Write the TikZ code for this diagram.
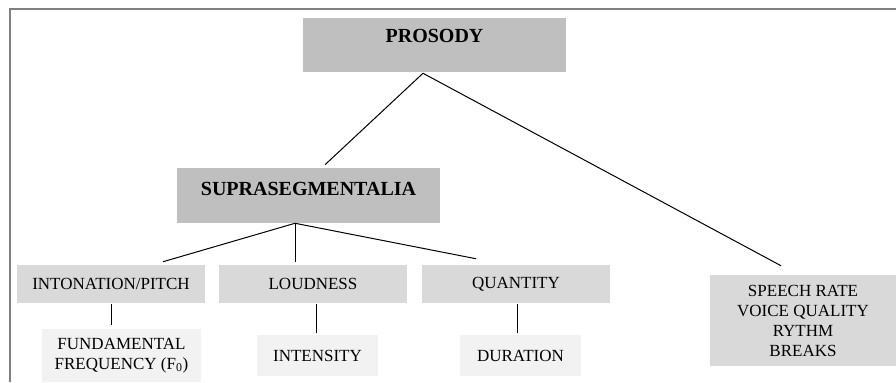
\documentclass[tikz,border=0pt]{standalone}
\usepackage{fontspec}
\setmainfont{Liberation Serif}
\usetikzlibrary{calc}
\definecolor{boxdark}{HTML}{BFBFBF}
\definecolor{boxmid}{HTML}{D9D9D9}
\definecolor{boxlight}{HTML}{F2F2F2}
\definecolor{framegray}{HTML}{808080}
\tikzset{
  box/.style={inner sep=0pt, align=center, font=\fontsize{12.75}{15}\selectfont},
  headbox/.style={box, fill=boxdark, font=\fontsize{15}{18}\selectfont\bfseries},
  link/.style={line width=0.75pt}
}
\begin{document}
\begin{tikzpicture}[x=0.75pt,y=-0.75pt]
    \useasboundingbox (0,0) rectangle (896,382);
    \draw [framegray,line width=1.1pt] (10,382) -- (10,9) -- (896,9);
    \node [headbox,minimum width=197.25pt,minimum height=40.5pt,text depth=13.5pt] (pros) at (434.5,45) {PROSODY};
    \node [headbox,minimum width=197.25pt,minimum height=41.25pt,text depth=9.75pt] (supra) at (308.5,195.5) {SUPRASEGMENTALIA};
    \node [box,fill=boxmid,minimum width=141pt,minimum height=28.5pt] (inton) at (111,284) {INTONATION/PITCH};
    \node [box,fill=boxmid,minimum width=141pt,minimum height=28.5pt] (loud) at (313,284) {LOUDNESS};
    \node [box,fill=boxmid,minimum width=141pt,minimum height=28.5pt] (quant) at (516,284) {QUANTITY};
    \node [box,fill=boxlight,minimum width=119.25pt,minimum height=39.75pt] (fund) at (121.5,355.5) {FUNDAMENTAL\\FREQUENCY (F\textsubscript{0})};
    \node [box,fill=boxlight,minimum width=90.75pt,minimum height=30.75pt] (inten) at (317.5,355.5) {INTENSITY};
    \node [box,fill=boxlight,minimum width=90.75pt,minimum height=30.75pt] (dur) at (520.5,355.5) {DURATION};
    \node [box,fill=boxmid,minimum width=139.5pt,minimum height=68.25pt] (rate) at (803,320.5) {SPEECH RATE\\VOICE QUALITY\\RYTHM\\BREAKS};
    \draw [link] ($(pros.south)+(-11.5,1)$) -- ($(supra.north)+(16.5,-3)$);
    \draw [link] ($(pros.south)+(-11.5,1)$) -- ($(rate.north)+(-22,-9)$);
    \draw [link] ($(supra.south)+(-13.5,0)$) -- ($(inton.north)+(52,-3)$);
    \draw [link] ($(supra.south)+(-13.5,0)$) -- ($(loud.north)+(-18,-3)$);
    \draw [link] ($(supra.south)+(-13.5,0)$) -- ($(quant.north)+(-40,-6)$);
    \draw [link] ($(inton.south)+(0,1)$) -- ($(fund.north)+(-10.5,-4)$);
    \draw [link] ($(loud.south)+(3,1)$) -- ($(inten.north)+(-1.5,-2)$);
    \draw [link] ($(quant.south)+(1,1)$) -- ($(dur.north)+(-3.5,-2)$);
\end{tikzpicture}
\end{document}
